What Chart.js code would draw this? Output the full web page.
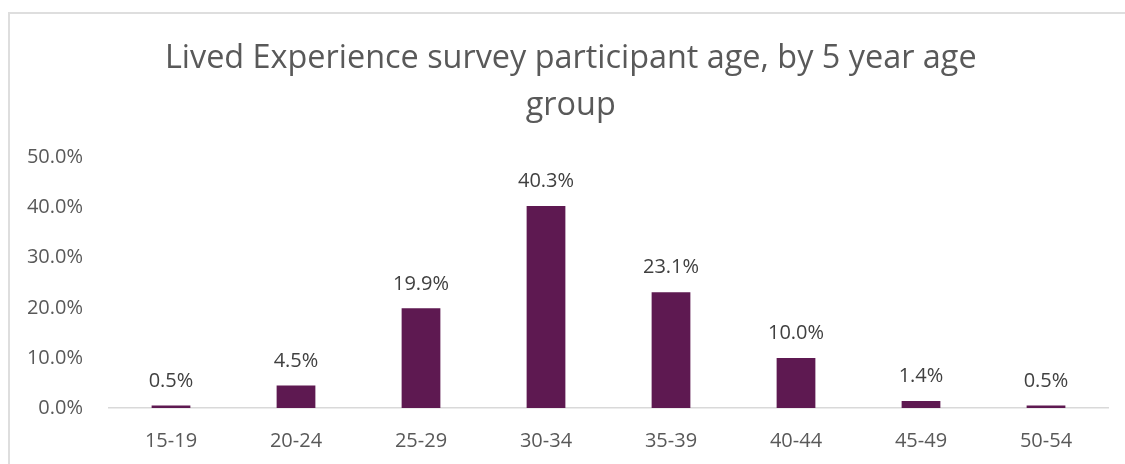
<!DOCTYPE html>
<html>
<head>
<meta charset="utf-8">
<script src="https://cdn.jsdelivr.net/npm/chart.js@4/dist/chart.umd.min.js"></script>
<style>
    html, body { margin: 0; padding: 0; background: #fff; overflow: hidden; }
    #frame { position: absolute; left: 8px; top: 12px; width: 1200px; height: 500px;
             border-left: 2px solid #dedede; border-top: 2px solid #dedede; pointer-events: none; }
    #chart { position: absolute; left: 0; top: 0; }
</style>
</head>
<body>
<div id="frame"></div>
<canvas id="chart" width="1125" height="464"></canvas>
<script>
"use strict";

const ageGroups = [ "15-19", "20-24", "25-29", "30-34", "35-39", "40-44", "45-49", "50-54" ];
const participantShare = [ 0.5, 4.5, 19.9, 40.3, 23.1, 10.0, 1.4, 0.5 ];
const yTickValues = [ 0, 10, 20, 30, 40, 50 ];
const titleLines = [ "Lived Experience survey participant age, by 5 year age", "group" ];

const FONT = "'Open Sans', sans-serif";
const BAR_COLOUR = "#5E1951";

// writes the percentage above each bar
const valueLabels = {
    id: "valueLabels",
    afterDatasetsDraw(chart) {
        const ctx = chart.ctx;
        const meta = chart.getDatasetMeta(0);
        ctx.save();
        ctx.font = "20px " + FONT;
        ctx.fillStyle = "#404040";
        ctx.textAlign = "center";
        ctx.textBaseline = "middle";
        meta.data.forEach(function(bar, i) {
            let val = chart.data.datasets[0].data[i];
            ctx.fillText(val.toFixed(1) + "%", bar.x, bar.y - 24.5);
        });
        ctx.restore();
    }
};

// centre the title a bit right of the canvas middle
const titleShift = {
    id: "titleShift",
    afterLayout(chart) {
        if (chart.titleBlock) chart.titleBlock.left = 33;
    }
};

new Chart(document.getElementById("chart"), {
    type: "bar",
    data: {
        labels: ageGroups,
        datasets: [ {
            data: participantShare,
            backgroundColor: BAR_COLOUR,
            borderWidth: 0,
            barPercentage: 0.31,
            categoryPercentage: 1
        } ]
    },
    options: {
        responsive: false,
        animation: false,
        devicePixelRatio: 1,
        layout: {
            padding: { left: 0, right: 16.5, top: 0, bottom: 0 }
        },
        plugins: {
            legend: { display: false },
            tooltip: { enabled: false },
            title: {
                display: true,
                text: titleLines,
                color: "#595959",
                font: { family: FONT, size: 32.4, weight: "normal", lineHeight: 47 / 32.4 },
                padding: { top: 35.5, bottom: 28 }
            }
        },
        scales: {
            x: {
                grid: { display: false, drawTicks: false },
                border: { display: true, color: "#d9d9d9", width: 1.5 },
                ticks: {
                    color: "#595959",
                    font: { family: FONT, size: 20 },
                    padding: 21,
                    maxRotation: 0
                },
                afterFit(scale) { scale.height = 56; }
            },
            y: {
                min: 0,
                max: 50,
                grid: { display: false, drawTicks: false },
                border: { display: false },
                afterBuildTicks(scale) {
                    scale.ticks = yTickValues.map(v => ({ value: v }));
                },
                ticks: {
                    color: "#595959",
                    font: { family: FONT, size: 20 },
                    padding: 25.5,
                    callback: v => v.toFixed(1) + "%"
                },
                afterFit(scale) { scale.width = 108.5; }
            }
        }
    },
    plugins: [ valueLabels, titleShift ]
});
</script>
</body>
</html>
